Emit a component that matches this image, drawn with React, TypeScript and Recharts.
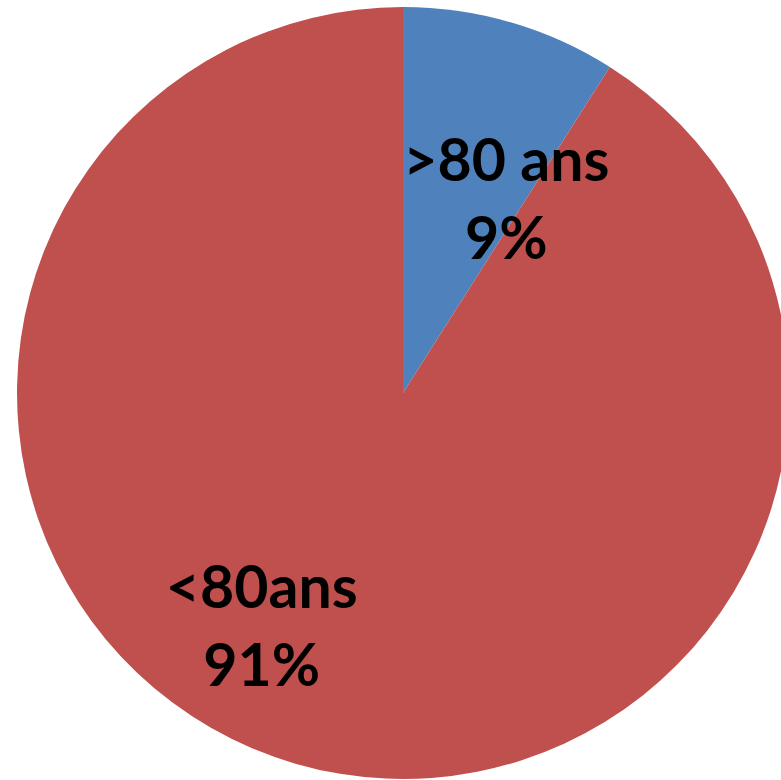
import { Cell, Pie, PieChart } from 'recharts'

const groups = ['>80 ans', '<80ans']
const shares = [9, 91]
const colors = ['#4F81BD', '#C0504D']

// where Excel put each label: angle (deg) and distance as a fraction of the radius
const labelSpots = [
  { angle: 59, dist: 0.52 },
  { angle: 241, dist: 0.755 },
]

const data = groups.map((name, i) => ({ name, value: shares[i] }))

const RADIAN = Math.PI / 180

function renderLabel(props: any) {
  const { cx, cy, outerRadius, index, name, percent } = props
  const spot = labelSpots[index]
  const r = outerRadius * spot.dist
  const x = cx + r * Math.cos(spot.angle * RADIAN)
  const y = cy - r * Math.sin(spot.angle * RADIAN)
  return (
    <text
      x={x}
      y={y}
      textAnchor="middle"
      fill="#000"
      fontFamily="Lato, 'Open Sans', sans-serif"
      fontWeight={700}
      fontSize={59}
    >
      <tspan x={x} dy={-40}>
        {name}
      </tspan>
      <tspan x={x} dy={78}>
        {`${Math.round(percent * 100)}%`}
      </tspan>
    </text>
  )
}

export default function App() {
  return (
    <div style={{ position: 'absolute', left: 0, top: 0, width: 781, height: 780, background: '#fff' }}>
      <PieChart width={781} height={780} margin={{ top: 0, right: 0, bottom: 0, left: 0 }}>
        <Pie
          data={data}
          dataKey="value"
          nameKey="name"
          cx={403}
          cy={393}
          outerRadius={386}
          startAngle={90}
          endAngle={-270}
          stroke="none"
          label={renderLabel}
          labelLine={false}
          isAnimationActive={false}
        >
          {data.map((entry, i) => (
            <Cell key={entry.name} fill={colors[i]} />
          ))}
        </Pie>
      </PieChart>
    </div>
  )
}
